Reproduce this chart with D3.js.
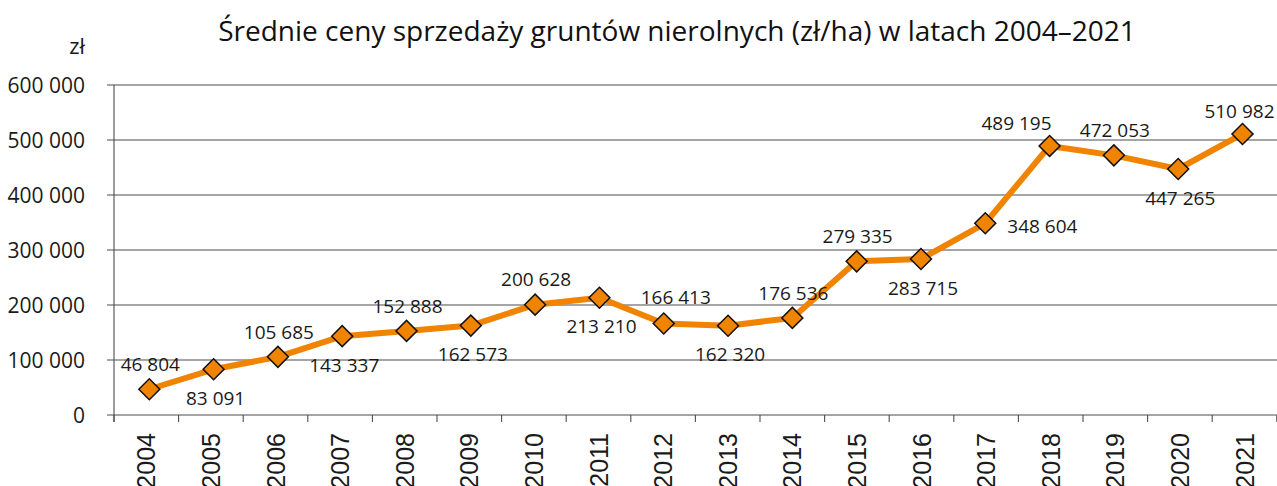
<!DOCTYPE html>
<html>
<head>
<meta charset="utf-8">
<script src="https://cdn.jsdelivr.net/npm/d3@7"></script>
<style>
  body { margin: 0; background: #fff; }
  svg { display: block; }
  .axis path { display: none; }
  .grid line { stroke: #4d4d4d; stroke-width: 1.1; }
  .y-axis text { font-family: "Open Sans", sans-serif; font-size: 21px; fill: #1a1a1a; }
  .x-axis text { font-family: "Liberation Sans", Arial, sans-serif; font-size: 25px; fill: #1a1a1a; }
  .x-axis line { stroke: #4d4d4d; stroke-width: 1.1; }
  .point-label { font-family: "Open Sans", sans-serif; font-size: 19px; fill: #1a1a1a; }
</style>
</head>
<body>
<svg id="chart"></svg>
<script>
// data
const years = ['2004', '2005', '2006', '2007', '2008', '2009', '2010', '2011', '2012',
    '2013', '2014', '2015', '2016', '2017', '2018', '2019', '2020', '2021'];
const prices = [46804, 83091, 105685, 143337, 152888, 162573, 200628, 213210, 166413,
    162320, 176536, 279335, 283715, 348604, 489195, 472053, 447265, 510982];
const yTicks = [0, 100000, 200000, 300000, 400000, 500000, 600000];
// where each value label sits relative to its marker
const labelSide = ['a', 'b', 'a', 'b', 'a', 'b', 'a', 'b', 'ar',
    'b', 'a', 'a', 'b', 'r', 'al', 'a', 'b', 'ae'];

const title = 'Średnie ceny sprzedaży gruntów nierolnych (zł/ha) w latach 2004–2021';

const width = 1277, height = 486;
const margin = { top: 85, right: 0.2, bottom: 71, left: 114 };
const innerW = width - margin.left - margin.right;
const innerH = height - margin.top - margin.bottom;

const fmt = v => d3.format(',')(v).replace(/,/g, '\u00a0');

const svg = d3.select('#chart')
    .attr('width', width)
    .attr('height', height);

const chart = svg.append('g')
    .attr('transform', `translate(${margin.left},${margin.top})`);

const xScale = d3.scaleBand()
    .domain(years)
    .range([0, innerW])
    .padding(0);

// markers sit slightly inside the category centres, like in the original
const xPoint = d3.scalePoint()
    .domain(years)
    .range([xScale.bandwidth() / 2 + 3, innerW - xScale.bandwidth() / 2 - 2]);

const yScale = d3.scaleLinear()
    .domain([0, 600000])
    .range([innerH, 0]);

// horizontal grid lines with small ticks left of the axis
chart.append('g')
    .attr('class', 'grid')
    .selectAll('line')
    .data(yTicks)
    .join('line')
    .attr('x1', -7)
    .attr('x2', innerW + 1)
    .attr('y1', d => yScale(d))
    .attr('y2', d => yScale(d));

// y axis labels
const yAxis = d3.axisLeft(yScale)
    .tickValues(yTicks)
    .tickSize(0)
    .tickPadding(29)
    .tickFormat(fmt);

chart.append('g')
    .attr('class', 'axis y-axis')
    .call(yAxis)
    .call(g => g.selectAll('text').attr('dy', '0.36em'));

// vertical axis line
chart.append('line')
    .attr('x1', 0).attr('x2', 0)
    .attr('y1', 0).attr('y2', innerH + 7)
    .attr('stroke', '#4d4d4d')
    .attr('stroke-width', 1.1);

// unit label
chart.append('text')
    .attr('class', 'point-label')
    .attr('x', -29)
    .attr('y', -31)
    .attr('text-anchor', 'end')
    .style('font-size', '22px')
    .text('zł');

// x axis: ticks at band boundaries, labels rotated
const xAxisG = chart.append('g')
    .attr('class', 'axis x-axis')
    .attr('transform', `translate(0,${innerH})`);

xAxisG.selectAll('line')
    .data(years.concat(['end']))
    .join('line')
    .attr('x1', (d, i) => i * xScale.bandwidth())
    .attr('x2', (d, i) => i * xScale.bandwidth())
    .attr('y1', 0)
    .attr('y2', 7);

xAxisG.selectAll('text')
    .data(years)
    .join('text')
    .attr('text-anchor', 'end')
    .attr('transform', d => `translate(${xScale(d) + xScale.bandwidth() / 2 + 9},18) rotate(-90)`)
    .text(d => d);

// line + markers
const line = d3.line()
    .x((d, i) => xPoint(years[i]))
    .y(d => yScale(d));

chart.append('path')
    .datum(prices)
    .attr('fill', 'none')
    .attr('stroke', '#f08300')
    .attr('stroke-width', 6)
    .attr('stroke-linejoin', 'round')
    .attr('d', line);

const diamond = d3.symbol().type(d3.symbolSquare).size(220);

chart.selectAll('.marker')
    .data(prices)
    .join('path')
    .attr('class', 'marker')
    .attr('d', diamond)
    .attr('transform', (d, i) => `translate(${xPoint(years[i])},${yScale(d)}) rotate(45)`)
    .attr('fill', '#f08300')
    .attr('stroke', '#111')
    .attr('stroke-width', 1.5);

// value labels
const offsets = {
    a: { dx: 1, dy: -25, anchor: 'middle' },
    ar: { dx: 12, dy: -26, anchor: 'middle' },
    b: { dx: 2, dy: 29, anchor: 'middle' },
    r: { dx: 22, dy: 3, anchor: 'start' },
    al: { dx: 2, dy: -23, anchor: 'end' },
    ae: { dx: 32, dy: -23, anchor: 'end' }
};

chart.selectAll('.point-label.value')
    .data(prices)
    .join('text')
    .attr('class', 'point-label value')
    .attr('x', (d, i) => xPoint(years[i]) + offsets[labelSide[i]].dx)
    .attr('y', (d, i) => yScale(d) + offsets[labelSide[i]].dy)
    .attr('dy', '0.35em')
    .attr('text-anchor', (d, i) => offsets[labelSide[i]].anchor)
    .text(fmt);

// title
svg.append('text')
    .attr('x', 677)
    .attr('y', 41)
    .attr('text-anchor', 'middle')
    .style('font-family', '"Open Sans", sans-serif')
    .style('font-size', '28px')
    .style('fill', '#111')
    .text(title);
</script>
</body>
</html>
